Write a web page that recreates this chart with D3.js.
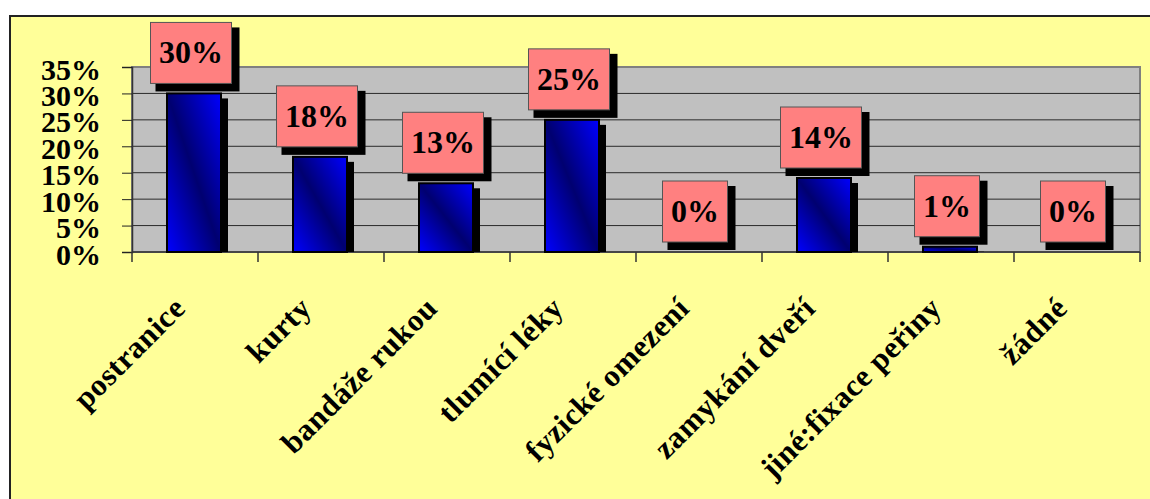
<!DOCTYPE html>
<html>
<head>
<meta charset="utf-8">
<script src="https://cdn.jsdelivr.net/npm/d3@7"></script>
<style>
  html, body { margin: 0; padding: 0; background: #ffffff; }
  svg { display: block; }
  text { font-family: "Liberation Serif", "Times New Roman", serif; font-weight: bold; }
</style>
</head>
<body>
<svg id="chart" width="1150" height="499"></svg>
<script>
// Restraint methods used and their share of cases
const categories = ["postranice", "kurty", "bandáže rukou", "tlumící léky",
                    "fyzické omezení", "zamykání dveří", "jiné:fixace peřiny", "žádné"];
const shares = [0.30, 0.18, 0.13, 0.25, 0.00, 0.14, 0.01, 0.00];
const yTicks = [0, 0.05, 0.10, 0.15, 0.20, 0.25, 0.30, 0.35];

const svg = d3.select("#chart");
const fmt = d3.format(".0%");

const plot = { left: 132, right: 1140, top: 67, bottom: 252 };

const x = d3.scaleBand().domain(categories).range([plot.left, plot.right]).padding(0);
const y = d3.scaleLinear().domain([0, 0.35]).range([plot.bottom, plot.top]);
const cx = c => x(c) + x.bandwidth() / 2;

// Bar fill: bright blue at two corners, dark navy along the diagonal
const defs = svg.append("defs");
const grad = defs.append("linearGradient").attr("id", "barFill")
  .attr("x1", 0).attr("y1", 1).attr("x2", 1).attr("y2", 0);
grad.append("stop").attr("offset", "0%").attr("stop-color", "#0000ff");
grad.append("stop").attr("offset", "50%").attr("stop-color", "#000070");
grad.append("stop").attr("offset", "100%").attr("stop-color", "#0000ff");

// Chart frame
svg.append("rect")
  .attr("x", 10).attr("y", 16).attr("width", 1160).attr("height", 500)
  .attr("fill", "#ffff99").attr("stroke", "#222").attr("stroke-width", 2);

// Plot area
svg.append("rect")
  .attr("x", plot.left).attr("y", plot.top)
  .attr("width", plot.right - plot.left).attr("height", plot.bottom - plot.top)
  .attr("fill", "#c0c0c0").attr("stroke", "#808080").attr("stroke-width", 2);

// Horizontal gridlines
svg.append("g")
  .selectAll("line")
  .data(yTicks.filter(t => t > 0 && t < 0.35))
  .join("line")
  .attr("x1", plot.left).attr("x2", plot.right)
  .attr("y1", d => y(d)).attr("y2", d => y(d))
  .attr("stroke", "#2a2a2a").attr("stroke-width", 1);

// Value axis
const yAxis = svg.append("g")
  .attr("transform", `translate(${plot.left},0)`)
  .call(d3.axisLeft(y).tickValues(yTicks).tickFormat(fmt).tickSize(10).tickPadding(21));
yAxis.select(".domain").attr("stroke", "#333").attr("stroke-width", 1.5);
yAxis.selectAll(".tick line").attr("stroke", "#222").attr("stroke-width", 1);
yAxis.selectAll(".tick text")
  .attr("font-size", 30).attr("fill", "#000")
  .attr("font-family", "Liberation Serif, Times New Roman, serif")
  .attr("font-weight", "bold")
  .attr("dy", 12);

// Category axis
const xAxis = svg.append("g")
  .attr("transform", `translate(0,${plot.bottom})`);
xAxis.append("line")
  .attr("x1", plot.left).attr("x2", plot.right)
  .attr("stroke", "#333").attr("stroke-width", 1.5);
xAxis.selectAll("line.tick")
  .data(categories.map(c => x(c)).concat([plot.right]))
  .join("line").attr("class", "tick")
  .attr("x1", d => d).attr("x2", d => d)
  .attr("y1", 0).attr("y2", 10)
  .attr("stroke", "#333").attr("stroke-width", 1.5);

xAxis.selectAll("text")
  .data(categories)
  .join("text")
  .attr("text-anchor", "end")
  .attr("font-size", 31)
  .attr("letter-spacing", 0.5)
  .attr("fill", "#000")
  .attr("transform", d => `translate(${cx(d) - 8},${58}) rotate(-45)`)
  .text(d => d);

// Bars with drop shadows
const data = categories.map((c, i) => ({ c, v: shares[i] }));
const barW = 54;
const bars = svg.append("g");
bars.selectAll("rect.shadow")
  .data(data.filter(d => d.v > 0))
  .join("rect").attr("class", "shadow")
  .attr("x", d => cx(d.c) - barW / 2 - 1 + 7)
  .attr("y", d => y(d.v) + 5)
  .attr("width", barW)
  .attr("height", d => Math.max(0, plot.bottom - y(d.v) - 5))
  .attr("fill", "#000");
bars.selectAll("rect.bar")
  .data(data.filter(d => d.v > 0))
  .join("rect").attr("class", "bar")
  .attr("x", d => cx(d.c) - barW / 2 - 1)
  .attr("y", d => y(d.v))
  .attr("width", barW)
  .attr("height", d => plot.bottom - y(d.v))
  .attr("fill", "url(#barFill)")
  .attr("stroke", "#000").attr("stroke-width", 2);

// Value callouts above each bar
const boxH = 61;
const labels = svg.append("g").selectAll("g")
  .data(data)
  .join("g");
labels.each(function (d) {
  const g = d3.select(this);
  const t = g.append("text")
    .attr("font-size", 32).attr("fill", "#000")
    .attr("text-anchor", "middle")
    .text(fmt(d.v));
  const w = t.node().getComputedTextLength() + 17;
  const bx = cx(d.c) - 4 - w / 2;
  const by = y(d.v) - 10 - boxH;
  g.insert("rect", "text")
    .attr("x", bx + 5).attr("y", by + 5)
    .attr("width", w + 3).attr("height", boxH + 3)
    .attr("fill", "#000");
  g.insert("rect", "text")
    .attr("x", bx).attr("y", by)
    .attr("width", w).attr("height", boxH)
    .attr("fill", "#ff8080").attr("stroke", "#555").attr("stroke-width", 1);
  t.attr("x", bx + w / 2).attr("y", by + 41);
});
</script>
</body>
</html>
